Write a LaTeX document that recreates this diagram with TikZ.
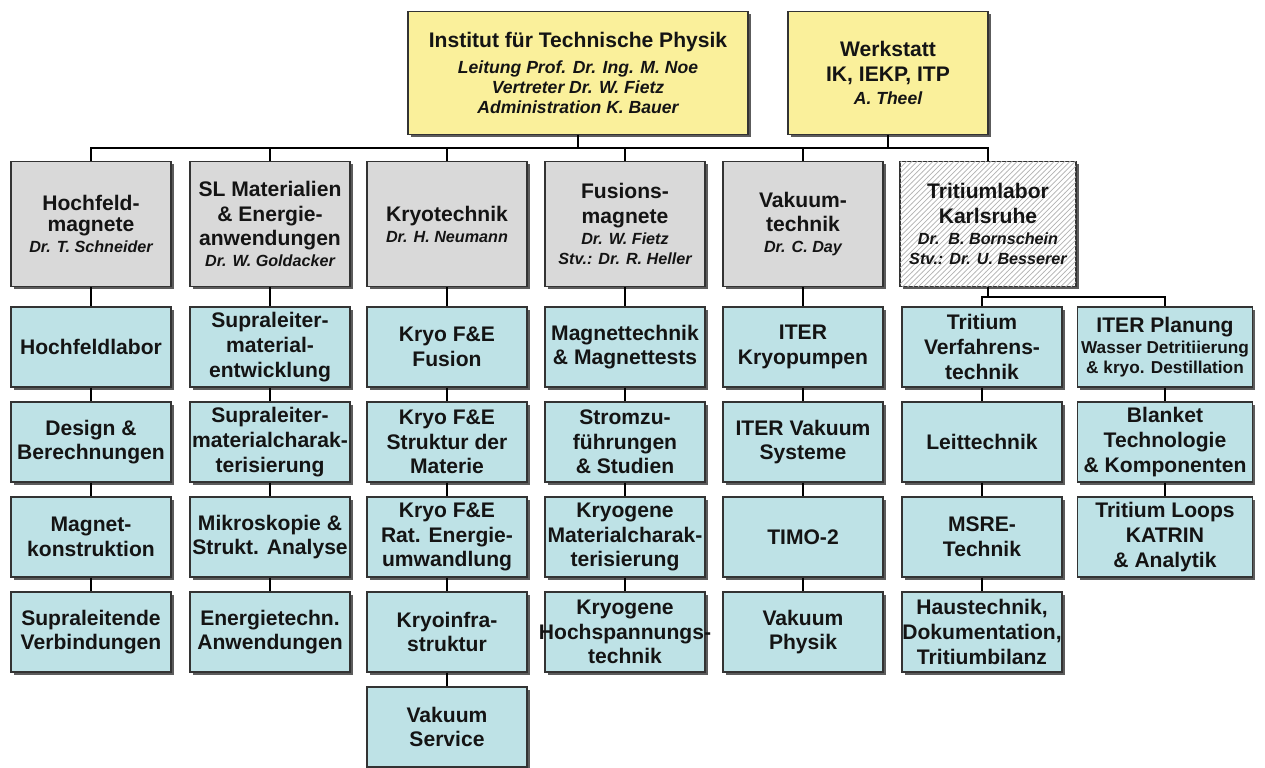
\documentclass[tikz,border=0pt]{standalone}
\usepackage{fontspec}
\setmainfont{Liberation Sans}
\usetikzlibrary{shadows,patterns}
\definecolor{paleyellow}{RGB}{250,240,155}
\definecolor{lightgrey}{RGB}{217,217,217}
\definecolor{paleteal}{RGB}{190,226,230}
\definecolor{ink}{RGB}{20,20,20}
\newcommand{\who}[1]{{\fontsize{9.2}{11.3}\selectfont\itshape #1}}
\newcommand{\boss}[1]{{\fontsize{10}{12}\selectfont\itshape #1}}
\newcommand{\detail}[1]{{\fontsize{9.8}{11.3}\selectfont #1}}
\newcommand{\overlong}[1]{\makebox[0pt]{#1}}
\tikzset{
  box/.style={draw=black!80, line width=0.7pt, text=ink, align=center, inner sep=1pt,
    font=\fontsize{12}{14}\selectfont\bfseries,
    drop shadow={shadow xshift=1.5pt, shadow yshift=-1.5pt, opacity=0.85, fill=black!75}},
  top/.style={box, fill=paleyellow, minimum height=2.46cm},
  head/.style={box, fill=lightgrey, minimum width=3.2cm, minimum height=2.5cm},
  unit/.style={box, fill=paleteal, minimum width=3.2cm, minimum height=1.6cm},
  link/.style={line width=1.1pt}
}

\begin{document}
\begin{tikzpicture}[x=0.02cm, y=-0.02cm]
    \path[fill=white] (0,0) rectangle (1265,767);
    % institute and workshop
    \path (578,73) node[top, minimum width=6.8cm] (inst) {Institut für Technische Physik\\[1pt]
      \boss{Leitung Prof. Dr. Ing. M. Noe}\\[-2.5pt]\boss{Vertreter Dr. W. Fietz}\\[-2.5pt]\boss{Administration K. Bauer}}
      (888,73) node[top, minimum width=4cm] (werk) {Werkstatt\\IK, IEKP, ITP\\[-1pt]\boss{A. Theel}};
    % departments
    \path (91,224) node[head] (h1) {Hochfeld-\\[-2pt]magnete\\[-2pt]\who{Dr. T. Schneider}}
      (270,224) node[head] (h2) {SL Materialien\\\& Energie-\\anwendungen\\[-2pt]\who{Dr. W. Goldacker}}
      (447,224) node[head] (h3) {Kryotechnik\\[-2pt]\who{Dr. H. Neumann}}
      (625,224) node[head] (h4) {Fusions-\\magnete\\[-2pt]\who{Dr. W. Fietz}\\[-2.6pt]\who{Stv.: Dr. R. Heller}}
      (803,224) node[head] (h5) {Vakuum-\\technik\\[-2pt]\who{Dr. C. Day}};
    \path (988,224) node[head, minimum width=3.52cm, fill=white,
      postaction={pattern=north east lines, pattern color=black!30}] (h6)
      {Tritiumlabor\\Karlsruhe\\[-2pt]\who{Dr.\ \ B. Bornschein}\\[-2.6pt]\who{Stv.: Dr. U. Besserer}};
    % groups, one loop per column
    \foreach \txt [count=\r] in {{Hochfeldlabor}, {Design \&\\Berechnungen},
        {Magnet-\\konstruktion}, {Supraleitende\\Verbindungen}}
      \node[unit] (u1\r) at (91,252+95*\r) {\txt};
    \foreach \txt [count=\r] in {{Supraleiter-\\material-\\entwicklung},
        {Supraleiter-\\materialcharak-\\terisierung}, {Mikroskopie \&\\Strukt. Analyse},
        {Energietechn.\\Anwendungen}}
      \node[unit] (u2\r) at (270,252+95*\r) {\txt};
    \foreach \txt [count=\r] in {{Kryo F\&E\\Fusion}, {Kryo F\&E\\Struktur der\\Materie},
        {Kryo F\&E\\Rat. Energie-\\umwandlung}, {Kryoinfra-\\struktur}, {Vakuum\\Service}}
      \node[unit] (u3\r) at (447,252+95*\r) {\txt};
    \foreach \txt [count=\r] in {{Magnettechnik\\\& Magnettests}, {Stromzu-\\führungen\\\& Studien},
        {Kryogene\\Materialcharak-\\terisierung}, {Kryogene\\\overlong{Hochspannungs-}\\technik}}
      \node[unit] (u4\r) at (625,252+95*\r) {\txt};
    \foreach \txt [count=\r] in {{ITER\\Kryopumpen}, {ITER Vakuum\\Systeme}, {TIMO-2},
        {Vakuum\\Physik}}
      \node[unit] (u5\r) at (803,252+95*\r) {\txt};
    \foreach \txt [count=\r] in {{Tritium\\Verfahrens-\\technik}, {Leittechnik},
        {MSRE-\\Technik}, {Haustechnik,\\\overlong{Dokumentation,}\\Tritiumbilanz}}
      \node[unit] (u6\r) at (982,252+95*\r) {\txt};
    \foreach \txt [count=\r] in {{ITER Planung\\[-2pt]\detail{\overlong{Wasser Detritiierung}}\\[-2.6pt]\detail{\& kryo. Destillation}},
        {Blanket\\Technologie\\\& Komponenten}, {Tritium Loops\\KATRIN\\\& Analytik}}
      \node[unit, minimum width=3.5cm] (u7\r) at (1165,252+95*\r) {\txt};
    % connectors
    \coordinate (bus) at (0,148);
    \coordinate (split) at (0,297);
    \draw[link] (h1.north) -- (h1.north |- bus) -- (h6.north |- bus) -- (h6.north);
    \draw[link] (inst.south) -- (inst.south |- bus);
    \draw[link] (werk.south) -- (werk.south |- bus);
    \foreach \c in {2,...,5}
      \draw[link] (h\c.north) -- (h\c.north |- bus);
    \foreach \c in {1,...,5}
      \draw[link] (h\c.south) -- (u\c1.north);
    \draw[link] (h6.south) -- (h6.south |- split);
    \draw[link] (u61.north) -- (u61.north |- split) -- (u71.north |- split) -- (u71.north);
    \foreach \c/\m in {1/4, 2/4, 3/5, 4/4, 5/4, 6/4, 7/3}
      \foreach \r in {2,...,\m}{
        \pgfmathtruncatemacro\p{\r-1}
        \draw[link] (u\c\p.south) -- (u\c\r.north);
      };
\end{tikzpicture}
\end{document}
